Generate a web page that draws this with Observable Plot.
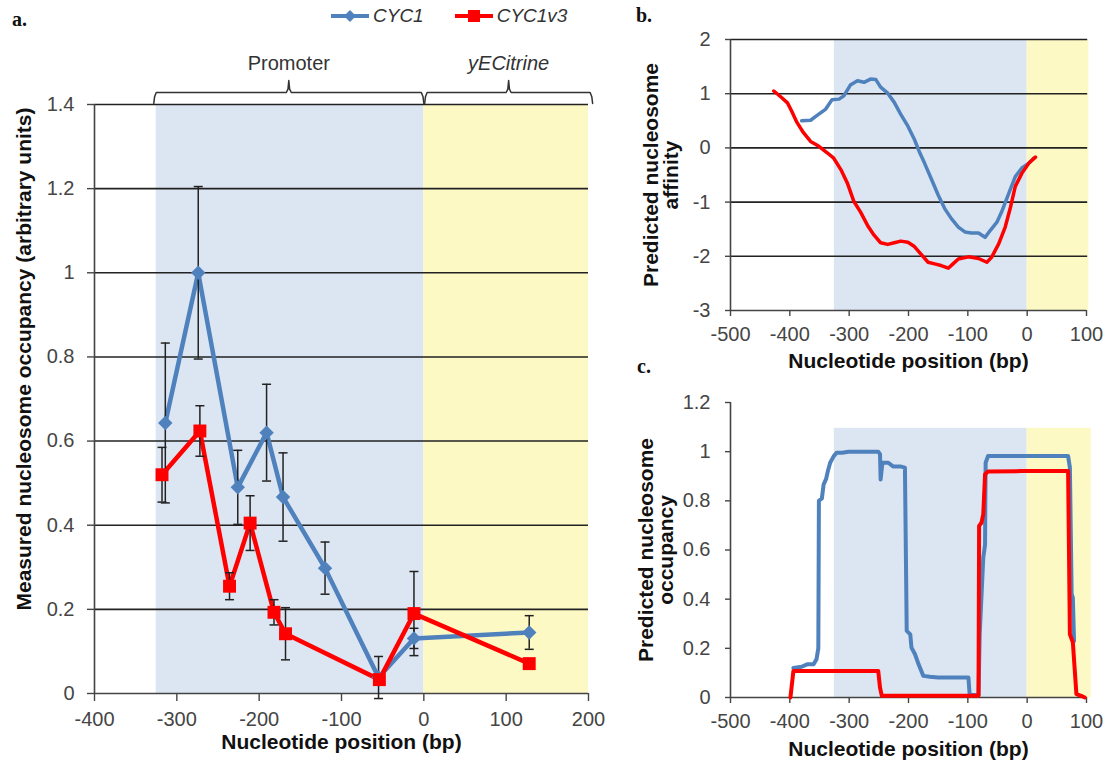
<!DOCTYPE html>
<html>
<head>
<meta charset="utf-8">
<script src="https://cdn.jsdelivr.net/npm/d3@7"></script>
<script src="https://cdn.jsdelivr.net/npm/@observablehq/plot@0.6"></script>
<style>
  html, body { margin: 0; padding: 0; background: #fff; }
  #wrap { position: relative; width: 1106px; height: 767px; overflow: hidden; font-family: "Liberation Sans", Arial, sans-serif; }
  .panel { position: absolute; }
  .letter { position: absolute; font-family: "Liberation Serif", "Times New Roman", serif; font-weight: bold; font-size: 20px; color: #111; }
  .legend { position: absolute; top: 5px; left: 330px; display: flex; align-items: center; font-style: italic; font-size: 19px; color: #333; }
  .legend .item { display: flex; align-items: center; margin-right: 30px; }
  .legend svg { display: block; margin-right: 3px; }
</style>
</head>
<body>
<div id="wrap">
  <div class="panel" id="pa" style="left:0;top:0;width:610px;height:767px"></div>
  <div class="panel" id="pb" style="left:620px;top:0;width:486px;height:390px"></div>
  <div class="panel" id="pc" style="left:620px;top:390px;width:486px;height:377px"></div>
  <div class="letter" style="left:12px;top:8px">a.</div>
  <div class="letter" style="left:636px;top:4px">b.</div>
  <div class="letter" style="left:637px;top:355px">c.</div>
  <div class="legend" id="legend"></div>
</div>
<script>
// ---------- Series names & colours ----------
const seriesNames = ["CYC1", "CYC1v3"];
const seriesColors = ["#4f81bd", "#ff0000"];

// ---------- Panel a: measured nucleosome occupancy ----------
const aX_CYC1   = [-314, -274, -226, -191, -171, -120, -55, -12, 128];
const aY_CYC1   = [0.643, 1.0, 0.49, 0.62, 0.467, 0.298, 0.038, 0.131, 0.145];
const aErr_CYC1 = [0.19, 0.205, 0.088, 0.115, 0.105, 0.062, 0.05, 0.024, 0.04];

const aX_CYC1v3   = [-318, -272, -236, -211, -182, -168, -54, -12, 128];
const aY_CYC1v3   = [0.52, 0.624, 0.255, 0.405, 0.193, 0.142, 0.033, 0.19, 0.071];
const aErr_CYC1v3 = [0.065, 0.06, 0.032, 0.065, 0.03, 0.062, 0.01, 0.1, 0.01];

const aXTicks = [-400, -300, -200, -100, 0, 100, 200];
const aYTicks = [0, 0.2, 0.4, 0.6, 0.8, 1, 1.2, 1.4];
const aGrid   = [0.2, 0.4, 0.6, 0.8, 1, 1.2, 1.4];

// Regions (promoter / yECitrine)
const regionNames = ["Promoter", "yECitrine"];
const regionStart = [-325, 0];
const regionEnd   = [0, 200];
const braceStart  = [-328, 1];
const braceEnd    = [0, 205];

// ---------- Panel b: predicted nucleosome affinity ----------
const bX_CYC1 = [-380, -365, -354, -340, -329, -317, -309, -298, -286, -275, -264, -255, -247, -235, -224, -213, -201, -190, -181, -173, -162, -150, -139, -128, -116, -105, -94, -82, -71, -62, -51, -43, -31, -20, -9, 3, 11];
const bY_CYC1 = [0.50, 0.51, 0.60, 0.71, 0.89, 0.90, 0.96, 1.16, 1.24, 1.21, 1.27, 1.26, 1.12, 1.01, 0.84, 0.62, 0.40, 0.155, -0.09, -0.28, -0.56, -0.87, -1.12, -1.30, -1.46, -1.55, -1.57, -1.57, -1.65, -1.52, -1.37, -1.18, -0.84, -0.53, -0.37, -0.28, -0.19];

const bX_CYC1v3 = [-427, -414, -404, -397, -388, -377, -365, -351, -337, -326, -314, -303, -292, -281, -269, -258, -247, -235, -224, -213, -201, -190, -179, -167, -156, -145, -133, -125, -116, -99, -82, -68, -60, -48, -37, -28, -20, -9, 3, 14];
const bY_CYC1v3 = [1.05, 0.93, 0.83, 0.68, 0.47, 0.28, 0.12, 0.03, -0.09, -0.19, -0.40, -0.65, -0.99, -1.18, -1.43, -1.61, -1.75, -1.78, -1.75, -1.72, -1.74, -1.82, -1.96, -2.11, -2.14, -2.17, -2.22, -2.14, -2.05, -2.01, -2.04, -2.11, -2.02, -1.77, -1.46, -1.09, -0.71, -0.47, -0.28, -0.17];

const bXTicks = [-500, -400, -300, -200, -100, 0, 100];
const bYTicks = [-3, -2, -1, 0, 1, 2];
const bGrid   = [-2, -1, 0, 1, 2];

// ---------- Panel c: predicted nucleosome occupancy ----------
const cX_CYC1 = [-394, -380, -371, -360, -355, -352, -351, -346, -343, -339, -336, -332, -326, -321, -312, -301, -279, -251, -248, -247, -244, -234, -226, -214, -206, -203, -197, -195, -189, -183, -175, -164, -150, -122, -99, -97, -94, -82, -80, -74, -71, -70, -66, -49, -10, 47, 69, 72, 75, 77, 79];
const cY_CYC1 = [0.12, 0.125, 0.135, 0.135, 0.156, 0.20, 0.80, 0.81, 0.867, 0.888, 0.92, 0.955, 0.982, 0.996, 0.996, 1.0, 1.0, 1.0, 0.99, 0.887, 0.955, 0.955, 0.94, 0.94, 0.935, 0.271, 0.257, 0.203, 0.176, 0.135, 0.088, 0.084, 0.081, 0.081, 0.081, 0.014, 0.01, 0.01, 0.257, 0.569, 0.62, 0.955, 0.982, 0.982, 0.982, 0.982, 0.982, 0.935, 0.42, 0.406, 0.23];

const cX_CYC1v3 = [-399, -394, -391, -251, -248, -245, -240, -99, -82, -81, -77, -74, -71, -66, -10, 69, 72, 77, 83, 91, 97];
const cY_CYC1v3 = [0, 0.108, 0.108, 0.108, 0.04, 0.007, 0.007, 0.007, 0.007, 0.698, 0.711, 0.745, 0.908, 0.919, 0.921, 0.921, 0.257, 0.224, 0.014, 0.007, 0];

const cXTicks = [-500, -400, -300, -200, -100, 0, 100];
const cYTicks = [0, 0.2, 0.4, 0.6, 0.8, 1, 1.2];

// ---------- Shared styling ----------
const BLUE_BG = "#dce6f2";
const YELLOW_BG = "#fcf9c4";
const FONT = "'Liberation Sans', Arial, sans-serif";
const TITLE_SIZE = 21;
const TICK_SIZE = 20;
const TICK_COLOR = "#454545";
const plotStyle = { fontFamily: FONT, fontSize: "20px", color: TICK_COLOR, background: "transparent", overflow: "visible" };

const zip = (xs, ys) => xs.map((x, i) => ({ x, y: ys[i] }));
const aBlue = zip(aX_CYC1, aY_CYC1);
const aRed = zip(aX_CYC1v3, aY_CYC1v3);
const errRows = (xs, ys, es) => xs.map((x, i) => ({ x, lo: ys[i] - es[i], hi: ys[i] + es[i] }));
const aBlueErr = errRows(aX_CYC1, aY_CYC1, aErr_CYC1);
const aRedErr = errRows(aX_CYC1v3, aY_CYC1v3, aErr_CYC1v3);

// short horizontal cap for error bars
const capSymbol = { draw(ctx, size) { const w = Math.sqrt(size / Math.PI); ctx.moveTo(-w, 0); ctx.lineTo(w, 0); } };

// curly braces above panel a
const braceRows = [];
const yEnd = 1.4025, yFlat = 1.4286, yPeak = 1.457;
braceStart.forEach((x0, i) => {
  const x1 = braceEnd[i], mid = (x0 + x1) / 2;
  [[x0, yEnd], [x0 + 1, yFlat - 0.01], [x0 + 3, yFlat], [mid - 3, yFlat], [mid - 1, yFlat + 0.008], [mid, yPeak],
   [mid + 1, yFlat + 0.008], [mid + 3, yFlat], [x1 - 3, yFlat], [x1 - 1, yFlat - 0.01], [x1, yEnd]]
    .forEach(([x, y]) => braceRows.push({ id: i, x, y }));
});
const regionLabels = regionNames.map((name, i) => ({ name, x: (braceStart[i] + braceEnd[i]) / 2 }));

const fmt = d => String(d);
const axisOpts = { tickFormat: fmt, label: null, strokeWidth: 1.4, fontSize: TICK_SIZE, fill: TICK_COLOR };
const titleOpts = { fontSize: TITLE_SIZE, fontWeight: "bold", fill: "#111" };
const yTitleOpts = { ...titleOpts, frameAnchor: "left", rotate: -90, textAnchor: "middle", lineAnchor: "middle" };

// ---------- Panel a ----------
const chartA = Plot.plot({
  width: 610, height: 767,
  marginLeft: 94, marginRight: 22, marginTop: 104, marginBottom: 74,
  style: plotStyle,
  x: { domain: [-400, 200] },
  y: { domain: [0, 1.4] },
  marks: [
    Plot.rect([0], { x1: regionStart[0], x2: regionEnd[0], y1: 0, y2: 1.4, fill: BLUE_BG }),
    Plot.rect([0], { x1: regionStart[1], x2: regionEnd[1], y1: 0, y2: 1.4, fill: YELLOW_BG }),
    Plot.ruleY(aGrid, { stroke: "#222", strokeWidth: 1.6 }),
    Plot.ruleY([0], { stroke: "#444", strokeWidth: 1.6 }),
    Plot.ruleX([-400], { y1: 0, y2: 1.4, stroke: "#444", strokeWidth: 1.6 }),
    Plot.axisX({ ...axisOpts, ticks: aXTicks, tickSize: 8, tickPadding: 10 }),
    Plot.axisY({ ...axisOpts, ticks: aYTicks, tickSize: 7, tickPadding: 13 }),
    Plot.line(braceRows, { x: "x", y: "y", z: "id", stroke: "#333", strokeWidth: 1.5 }),
    Plot.text(regionLabels.slice(0, 1), { x: "x", y: 1.497, text: "name", fontSize: 20, fill: "#333" }),
    Plot.text(regionLabels.slice(1), { x: "x", y: 1.497, text: "name", fontSize: 20, fill: "#333", fontStyle: "italic" }),
    Plot.line(aBlue, { x: "x", y: "y", stroke: seriesColors[0], strokeWidth: 4.5 }),
    Plot.line(aRed, { x: "x", y: "y", stroke: seriesColors[1], strokeWidth: 4.5 }),
    Plot.ruleX(aBlueErr, { x: "x", y1: "lo", y2: "hi", stroke: "#222", strokeWidth: 1.5 }),
    Plot.dot(aBlueErr, { x: "x", y: "hi", symbol: capSymbol, r: 4.5, stroke: "#222", strokeWidth: 1.5, fill: "none" }),
    Plot.dot(aBlueErr, { x: "x", y: "lo", symbol: capSymbol, r: 4.5, stroke: "#222", strokeWidth: 1.5, fill: "none" }),
    Plot.ruleX(aRedErr, { x: "x", y1: "lo", y2: "hi", stroke: "#222", strokeWidth: 1.5 }),
    Plot.dot(aRedErr, { x: "x", y: "hi", symbol: capSymbol, r: 4.5, stroke: "#222", strokeWidth: 1.5, fill: "none" }),
    Plot.dot(aRedErr, { x: "x", y: "lo", symbol: capSymbol, r: 4.5, stroke: "#222", strokeWidth: 1.5, fill: "none" }),
    Plot.dot(aBlue, { x: "x", y: "y", symbol: "diamond2", r: 6.5, fill: seriesColors[0], stroke: null }),
    Plot.dot(aRed, { x: "x", y: "y", symbol: "square", r: 7.3, fill: seriesColors[1], stroke: null }),
    Plot.text(["Nucleotide position (bp)"], { ...titleOpts, frameAnchor: "bottom", dy: 55 }),
    Plot.text(["Measured nucleosome occupancy (arbitrary units)"], { ...yTitleOpts, dx: -70, dy: -40 })
  ]
});
document.getElementById("pa").appendChild(chartA);

// ---------- Panel b ----------
const chartB = Plot.plot({
  width: 486, height: 390,
  marginLeft: 110, marginRight: 20, marginTop: 39, marginBottom: 80,
  style: plotStyle,
  x: { domain: [-500, 100] },
  y: { domain: [-3, 2] },
  marks: [
    Plot.rect([0], { x1: -325, x2: 0, y1: -3, y2: 2, fill: BLUE_BG }),
    Plot.rect([0], { x1: 0, x2: 104, y1: -3, y2: 2, fill: YELLOW_BG }),
    Plot.ruleY(bGrid, { x1: -500, x2: 102, stroke: "#222", strokeWidth: 1.6 }),
    Plot.ruleY([-3], { stroke: "#444", strokeWidth: 1.6 }),
    Plot.ruleX([-500], { y1: -3, y2: 2, stroke: "#444", strokeWidth: 1.6 }),
    Plot.axisX({ ...axisOpts, ticks: bXTicks, tickSize: 6, tickPadding: 10 }),
    Plot.axisY({ ...axisOpts, ticks: bYTicks, tickSize: 5, tickPadding: 15 }),
    Plot.line(zip(bX_CYC1, bY_CYC1), { x: "x", y: "y", stroke: seriesColors[0], strokeWidth: 3.5 }),
    Plot.line(zip(bX_CYC1v3, bY_CYC1v3), { x: "x", y: "y", stroke: seriesColors[1], strokeWidth: 3.5 }),
    Plot.text(["Nucleotide position (bp)"], { ...titleOpts, frameAnchor: "bottom", dy: 57 }),
    Plot.text(["Predicted nucleosome\naffinity"], { ...yTitleOpts, dx: -69, lineHeight: 0.95 })
  ]
});
document.getElementById("pb").appendChild(chartB);

// ---------- Panel c ----------
const chartC = Plot.plot({
  width: 486, height: 377,
  marginLeft: 110, marginRight: 20, marginTop: 12, marginBottom: 70,
  style: plotStyle,
  x: { domain: [-500, 100] },
  y: { domain: [0, 1.2] },
  marks: [
    Plot.rect([0], { x1: -325, x2: 0, y1: 0, y2: 1.095, fill: BLUE_BG }),
    Plot.rect([0], { x1: 0, x2: 108, y1: 0, y2: 1.095, fill: YELLOW_BG }),
    Plot.ruleY([0], { stroke: "#444", strokeWidth: 1.6 }),
    Plot.ruleX([-500], { y1: 0, y2: 1.2, stroke: "#444", strokeWidth: 1.6 }),
    Plot.axisX({ ...axisOpts, ticks: cXTicks, tickSize: 6, tickPadding: 10 }),
    Plot.axisY({ ...axisOpts, ticks: cYTicks, tickSize: 5, tickPadding: 15 }),
    Plot.line(zip(cX_CYC1, cY_CYC1), { x: "x", y: "y", stroke: seriesColors[0], strokeWidth: 4 }),
    Plot.line(zip(cX_CYC1v3, cY_CYC1v3), { x: "x", y: "y", stroke: seriesColors[1], strokeWidth: 4 }),
    Plot.text(["Nucleotide position (bp)"], { ...titleOpts, frameAnchor: "bottom", dy: 58 }),
    Plot.text(["Predicted nucleosome\noccupancy"], { ...yTitleOpts, dx: -74, lineHeight: 0.95 })
  ]
});
document.getElementById("pc").appendChild(chartC);

// ---------- Legend (HTML, above panel a) ----------
const legend = document.getElementById("legend");
const markerFor = ["diamond", "square"];
seriesNames.forEach((name, i) => {
  const item = document.createElement("div");
  item.className = "item";
  const col = seriesColors[i];
  const marker = markerFor[i] === "diamond"
    ? `<path d="M20 4 L26 10 L20 16 L14 10 Z" fill="${col}"/>`
    : `<rect x="14" y="4" width="12" height="12" fill="${col}"/>`;
  item.innerHTML = `<svg width="40" height="20"><line x1="1" y1="10" x2="39" y2="10" stroke="${col}" stroke-width="4"/>${marker}</svg><span>${name}</span>`;
  legend.appendChild(item);
});
</script>
</body>
</html>
